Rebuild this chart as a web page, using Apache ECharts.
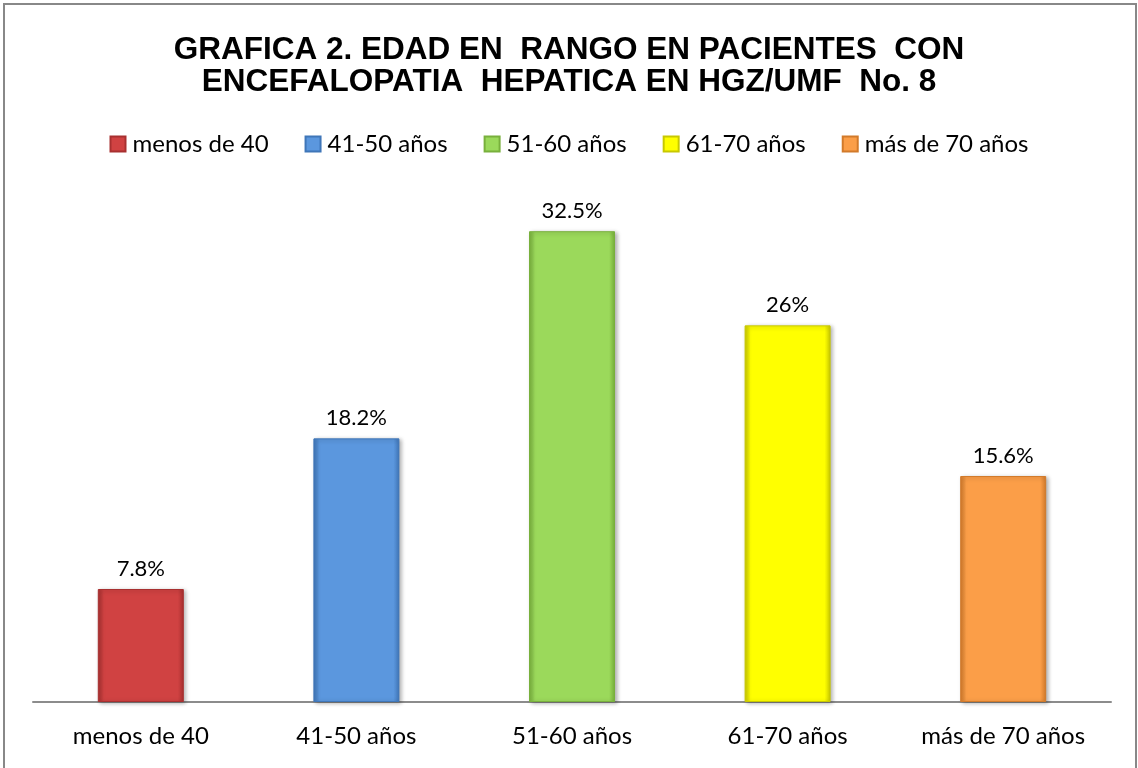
<!DOCTYPE html>
<html>
<head>
<meta charset="utf-8">
<script src="https://cdn.jsdelivr.net/npm/echarts@6/dist/echarts.min.js"></script>
<style>
html, body { margin: 0; padding: 0; background: #fff; }
#chart { width: 1138px; height: 768px; }
</style>
</head>
<body>
<div id="chart"></div>
<script>
// data
const categories = ['menos de 40', '41-50 años', '51-60 años', '61-70 años', 'más de 70 años']
const percents = [7.8, 18.2, 32.5, 26, 15.6]
const barColors = ['#d04242', '#5b97de', '#9bd95b', '#ffff00', '#fb9e48']
const edgeColors = ['#a83030', '#3f76b8', '#78b03c', '#c8c800', '#d27a2a']
const titleLines = ['GRAFICA 2. EDAD EN  RANGO EN PACIENTES  CON', 'ENCEFALOPATIA  HEPATICA EN HGZ/UMF  No. 8']

const FONT = 'Lato'

function barFill (i) {
  return {
    type: 'linear', x: 0, y: 0, x2: 1, y2: 0,
    colorStops: [
      { offset: 0, color: edgeColors[i] },
      { offset: 0.07, color: barColors[i] },
      { offset: 0.93, color: barColors[i] },
      { offset: 1, color: edgeColors[i] }
    ]
  }
}

// one series per category so the legend shows each one
const series = categories.map((name, i) => {
  const data = categories.map((c, j) => (j === i ? percents[i] : '-'))
  return {
    name: name,
    type: 'bar',
    stack: 'all',
    barWidth: 86,
    data: data,
    itemStyle: {
      color: barFill(i),
      borderColor: edgeColors[i],
      borderWidth: 1,
      shadowColor: 'rgba(0,0,0,0.3)',
      shadowBlur: 4,
      shadowOffsetX: 2,
      shadowOffsetY: 1
    },
    label: {
      show: true,
      position: 'top',
      distance: 9,
      fontFamily: FONT,
      fontSize: 22,
      color: '#000',
      formatter: p => p.value + '%'
    }
  }
})

const chart = echarts.init(document.getElementById('chart'))
chart.setOption({
  animation: false,
  title: {
    text: titleLines.join('\n'),
    left: 'center',
    top: 29,
    textStyle: {
      fontFamily: 'Liberation Sans',
      fontWeight: 'bold',
      fontSize: 31.5,
      lineHeight: 32,
      color: '#000'
    }
  },
  legend: {
    top: 127,
    left: 'center',
    icon: 'rect',
    itemWidth: 15,
    itemHeight: 15,
    itemGap: 36,
    textStyle: { fontFamily: FONT, fontSize: 24, color: '#000', padding: [0, 0, 0, 2] },
    data: categories
  },
  grid: { left: 33, right: 27, top: 195, bottom: 66, containLabel: false },
  xAxis: {
    type: 'category',
    data: categories,
    axisLine: { lineStyle: { color: '#8c8c8c', width: 2 } },
    axisTick: { show: false },
    axisLabel: { margin: 22, fontFamily: FONT, fontSize: 24, color: '#000' }
  },
  yAxis: {
    type: 'value',
    min: 0,
    max: 35,
    show: false,
    splitLine: { show: false }
  },
  series: series,
  graphic: [{
    type: 'rect',
    shape: { x: 4, y: 4, width: 1132, height: 780 },
    style: { fill: null, stroke: '#888', lineWidth: 2 },
    silent: true
  }]
})
</script>
</body>
</html>
